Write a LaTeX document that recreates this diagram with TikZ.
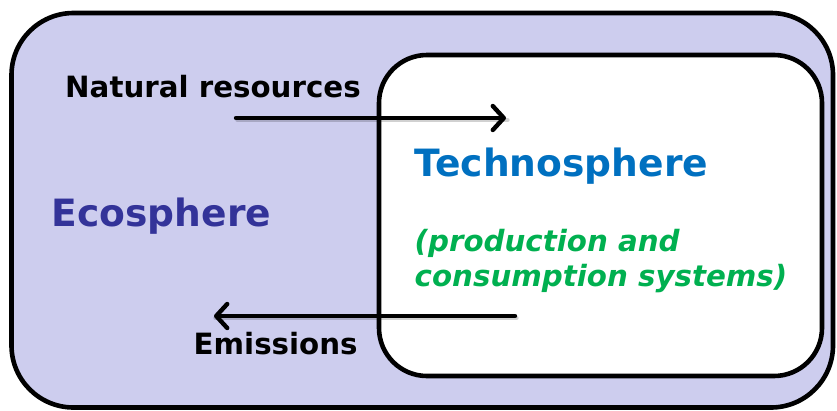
\documentclass[tikz,border=0pt]{standalone}
\usepackage{fontspec}
\setmainfont{DejaVu Sans}
\usetikzlibrary{arrows.meta}
\definecolor{ecobg}{HTML}{CDCDEE}
\definecolor{ecotext}{HTML}{333399}
\definecolor{technotext}{HTML}{0070C0}
\definecolor{greentext}{HTML}{00B050}
\tikzset{
  sphere/.style={line width=4.6pt, rounded corners=#1},
  flow/.style={line width=4.4pt, line cap=round,
    -{Straight Barb[length=11pt,width=24pt,line cap=round,line join=round]}},
  shadowline/.style={line width=4.4pt, line cap=round, draw=black, opacity=0.18},
  lbl/.style={inner sep=0pt, anchor=base west, font=\bfseries\fontsize{29.3}{35}\selectfont},
  greenlbl/.style={lbl, text=greentext, font=\bfseries\itshape\fontsize{29.3}{35}\selectfont},
  title/.style={inner sep=0pt, anchor=base west, font=\bfseries\fontsize{37.6}{44}\selectfont},
}
\begin{document}
\begin{tikzpicture}[x=1pt,y=-1pt]
\useasboundingbox (0,0) rectangle (837,410);
% outer ecosphere
\draw[sphere=62, fill=ecobg] (11.5,13) rectangle (833,407.5);
% inner technosphere
\draw[sphere=48, fill=white] (379,55) rectangle (822,376);
% coordinates for flows
\coordinate (nrStart) at (236,118);
\coordinate (nrEnd) at (506,118);
\coordinate (emStart) at (515,316);
\coordinate (emEnd) at (214,316);
% shadows
\draw[shadowline] ([shift={(1.5,2)}]nrStart) -- ([shift={(1.5,2)}]nrEnd);
\draw[shadowline] ([shift={(1.5,2)}]emStart) -- ([shift={(1.5,2)}]emEnd);
% flows
\draw[flow] (nrStart) -- (nrEnd);
\draw[flow] (emStart) -- (emEnd);
% labels
\node[lbl] (natres) at (65,97) {Natural resources};
\node[lbl] (emis) at (193.5,354) {Emissions};
\node[title, text=ecotext] (eco) at (51.5,226.5) {Ecosphere};
\node[title, text=technotext] (techno) at (414.5,176) {Technosphere};
\node[greenlbl] (prod1) at (414.5,251.5) {(production and};
\node[greenlbl] (prod2) at (414.5,286) {consumption systems)};
\end{tikzpicture}
\end{document}
